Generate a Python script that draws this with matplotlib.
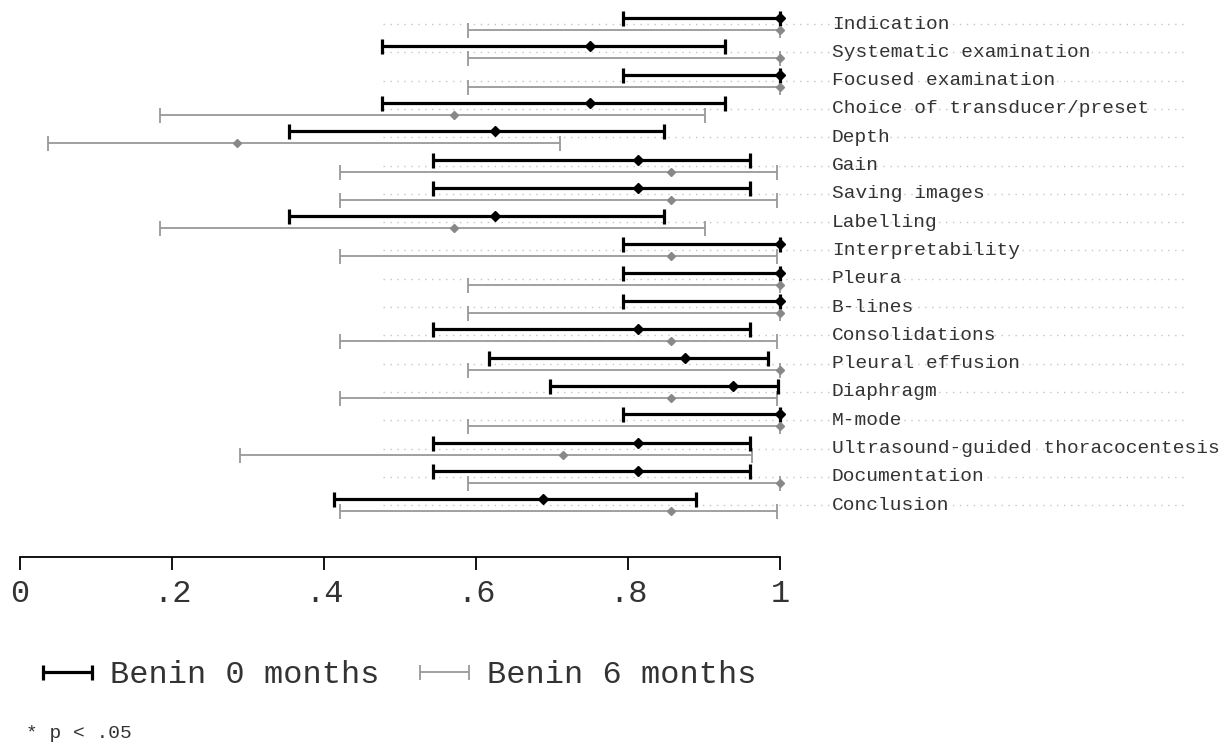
import numpy as np
import matplotlib.pyplot as plt
from matplotlib.legend_handler import HandlerErrorbar

plt.rcParams['font.family'] = ['Liberation Mono', 'DejaVu Sans Mono']

skills = ["Indication", "Systematic examination", "Focused examination",
          "Choice of transducer/preset", "Depth", "Gain", "Saving images",
          "Labelling", "Interpretability", "Pleura", "B-lines", "Consolidations",
          "Pleural effusion", "Diaphragm", "M-mode",
          "Ultrasound-guided thoracocentesis", "Documentation", "Conclusion"]

# Benin 0 months: proportion and 95% CI
m0 = [1.0, 0.75, 1.0, 0.75, 0.625, 0.8125, 0.8125, 0.625, 1.0, 1.0, 1.0,
      0.8125, 0.875, 0.9375, 1.0, 0.8125, 0.8125, 0.6875]
lo0 = [0.794, 0.476, 0.794, 0.476, 0.354, 0.544, 0.544, 0.354, 0.794, 0.794, 0.794,
       0.544, 0.617, 0.698, 0.794, 0.544, 0.544, 0.413]
hi0 = [1.0, 0.927, 1.0, 0.927, 0.848, 0.960, 0.960, 0.848, 1.0, 1.0, 1.0,
       0.960, 0.984, 0.998, 1.0, 0.960, 0.960, 0.890]

# Benin 6 months
m6 = [1.0, 1.0, 1.0, 0.571, 0.286, 0.857, 0.857, 0.571, 0.857, 1.0, 1.0,
      0.857, 1.0, 0.857, 1.0, 0.714, 1.0, 0.857]
lo6 = [0.590, 0.590, 0.590, 0.184, 0.037, 0.421, 0.421, 0.184, 0.421, 0.590, 0.590,
       0.421, 0.590, 0.421, 0.590, 0.290, 0.590, 0.421]
hi6 = [1.0, 1.0, 1.0, 0.901, 0.710, 0.996, 0.996, 0.901, 0.996, 1.0, 1.0,
       0.996, 1.0, 0.996, 1.0, 0.963, 1.0, 0.996]

ticks = [0, 0.2, 0.4, 0.6, 0.8, 1]
tick_labels = ["0", ".2", ".4", ".6", ".8", "1"]

m0, lo0, hi0 = np.array(m0), np.array(lo0), np.array(hi0)
m6, lo6, hi6 = np.array(m6), np.array(lo6), np.array(hi6)
y = np.arange(len(skills))
off = 0.212

fig = plt.figure(figsize=(12.28, 7.44), dpi=100)
ax = fig.add_axes([20 / 1228, 1 - 557 / 744, 760 / 1228, 557 / 744])
ax.set_xlim(0, 1)
ax.set_ylim(18.83, -0.848)

# dotted guide lines behind each row
ax.hlines(y, 0.478, 1.533, colors="#c4c4c4", linestyles=(0, (1, 4)), lw=1,
          clip_on=False, zorder=0)

e0 = ax.errorbar(m0, y - off, xerr=[m0 - lo0, hi0 - m0], fmt="none", ecolor="black",
                 elinewidth=2.3, capsize=5.4, capthick=2.3, clip_on=False,
                 label="Benin 0 months", zorder=3)
e6 = ax.errorbar(m6, y + off, xerr=[m6 - lo6, hi6 - m6], fmt="none", ecolor="#999999",
                 elinewidth=1.3, capsize=5.4, capthick=1.3, clip_on=False,
                 label="Benin 6 months", zorder=2)
ax.plot(m0, y - off, "D", color="black", ms=5.5, clip_on=False, zorder=4)
ax.plot(m6, y + off, "D", color="#888888", ms=4.5, clip_on=False, zorder=3)

for yi, name in zip(y, skills):
    ax.text(1.068, yi, name, fontsize=14, ha="left", va="center", color="#333333",
            clip_on=False)

for s in ["left", "right", "top"]:
    ax.spines[s].set_visible(False)
ax.spines["bottom"].set_linewidth(1.3)
ax.set_yticks([])
ax.set_xticks(ticks)
ax.set_xticklabels(tick_labels)
ax.tick_params(axis="x", length=9, width=1.3, labelsize=23, pad=7, labelcolor="#333333",
               color="black")

hm = {e0: HandlerErrorbar(xerr_size=0.76), e6: HandlerErrorbar(xerr_size=0.76)}
fig.legend(handles=[e0, e6], handler_map=hm, loc="center left",
           bbox_to_anchor=(43 / 1228, 1 - 675 / 744),
           ncol=2, frameon=False, fontsize=23, handlelength=1.55, handletextpad=0.56,
           columnspacing=1.25, borderpad=0, borderaxespad=0, labelcolor="#333333")

fig.text(26 / 1228, 1 - 733 / 744, "* p < .05", fontsize=14, va="center", color="#333333")

fig.savefig("out.png", dpi=100)
